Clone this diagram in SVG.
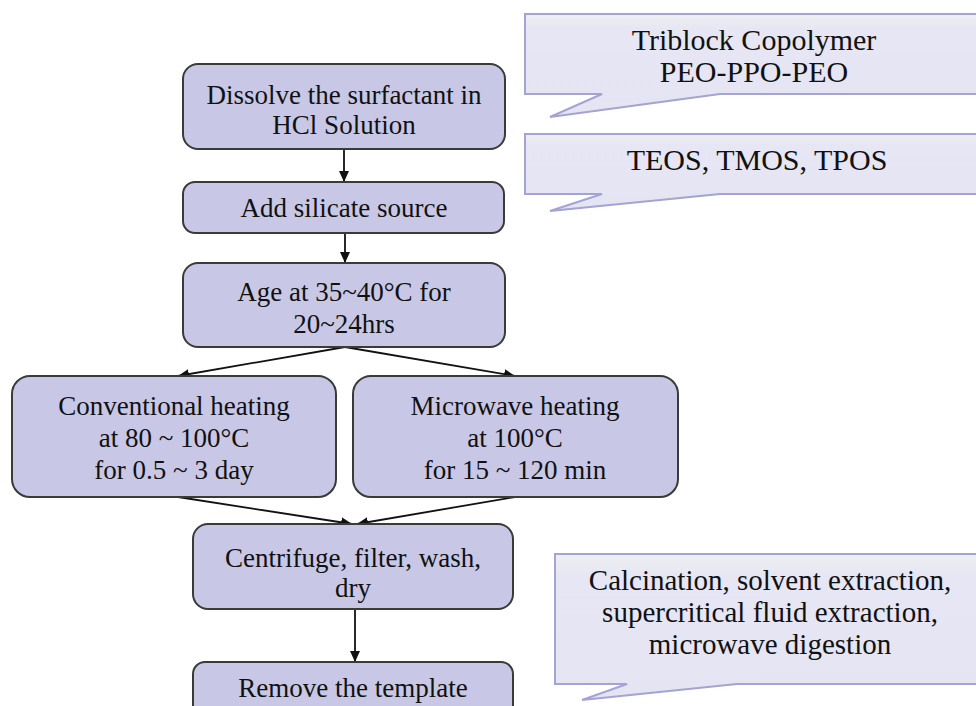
<svg xmlns="http://www.w3.org/2000/svg" width="976" height="706" viewBox="0 0 976 706">
<style>
.box{fill:#c8c8e6;stroke:#3a3a3a;stroke-width:2}
.call{fill:url(#cg);stroke:#a4a4d4;stroke-width:2}
.t{font-family:"Liberation Serif","Times New Roman",serif;font-size:27px;fill:#111;text-anchor:middle}
.ct{font-family:"Liberation Serif","Times New Roman",serif;font-size:30px;fill:#111;text-anchor:middle}
.ct3{font-family:"Liberation Serif","Times New Roman",serif;font-size:29px;fill:#111;text-anchor:middle}
.ln{stroke:#111;stroke-width:1.8;fill:none;marker-end:url(#ah)}
</style>
<defs>
<marker id="ah" markerUnits="userSpaceOnUse" markerWidth="12" markerHeight="10" refX="11" refY="5" orient="auto">
<path d="M0,0 L11,5 L0,10 Z" fill="#111"/>
</marker>
<linearGradient id="cg" x1="0" y1="0" x2="0" y2="1">
<stop offset="0" stop-color="#eeeff0"/>
<stop offset="0.15" stop-color="#e6e6f4"/>
<stop offset="1" stop-color="#e4e4f3"/>
</linearGradient>
</defs>
<rect width="976" height="706" fill="#fff"/>
<g id="connectors">
<line class="ln" x1="344" y1="149" x2="344" y2="182"/>
<line class="ln" x1="345" y1="233" x2="345" y2="263"/>
<line class="ln" x1="345" y1="347" x2="178" y2="376"/>
<line class="ln" x1="345" y1="347" x2="515" y2="376"/>
<line class="ln" x1="178" y1="497" x2="352" y2="524"/>
<line class="ln" x1="515" y1="497" x2="357" y2="524"/>
<line class="ln" x1="355" y1="609" x2="355" y2="662"/>
</g>
<g id="n1">
<rect class="box" x="183" y="64" width="322" height="85" rx="15"/>
<text class="t" x="344" y="104">Dissolve the surfactant in</text>
<text class="t" x="344" y="134">HCl Solution</text>
</g>
<g id="n2">
<rect class="box" x="183" y="182" width="321" height="51" rx="12"/>
<text class="t" x="344" y="217">Add silicate source</text>
</g>
<g id="n3">
<rect class="box" x="183" y="263" width="322" height="84" rx="15"/>
<text class="t" x="344" y="301">Age at 35~40°C for</text>
<text class="t" x="344" y="333">20~24hrs</text>
</g>
<g id="n4">
<rect class="box" x="12" y="376" width="324" height="121" rx="18"/>
<text class="t" x="174" y="415">Conventional heating</text>
<text class="t" x="174" y="447">at 80 ~ 100°C</text>
<text class="t" x="174" y="479">for 0.5 ~ 3 day</text>
</g>
<g id="n5">
<rect class="box" x="353" y="376" width="325" height="121" rx="18"/>
<text class="t" x="515" y="415">Microwave heating</text>
<text class="t" x="515" y="447">at 100°C</text>
<text class="t" x="515" y="479">for 15 ~ 120 min</text>
</g>
<g id="n6">
<rect class="box" x="193" y="524" width="320" height="85" rx="15"/>
<text class="t" x="353" y="567">Centrifuge, filter, wash,</text>
<text class="t" x="353" y="597">dry</text>
</g>
<g id="n7">
<rect class="box" x="193" y="662" width="320" height="60" rx="12"/>
<text class="t" x="353" y="697">Remove the template</text>
</g>
<g id="c1">
<path class="call" d="M525,14 H982 V94 H720 L550,117 L602,94 H525 Z"/>
<text class="ct" x="754" y="50">Triblock Copolymer</text>
<text class="ct" x="754" y="82">PEO-PPO-PEO</text>
</g>
<g id="c2">
<path class="call" d="M525,134 H982 V194 H720 L550,211 L602,194 H525 Z"/>
<text class="ct" x="757" y="170">TEOS, TMOS, TPOS</text>
</g>
<g id="c3">
<path class="call" d="M555,554 H982 V684 H737 L582,700 L627,684 H555 Z"/>
<text class="ct3" x="770" y="590">Calcination, solvent extraction,</text>
<text class="ct3" x="770" y="622">supercritical fluid extraction,</text>
<text class="ct3" x="770" y="654">microwave digestion</text>
</g>
</svg>
